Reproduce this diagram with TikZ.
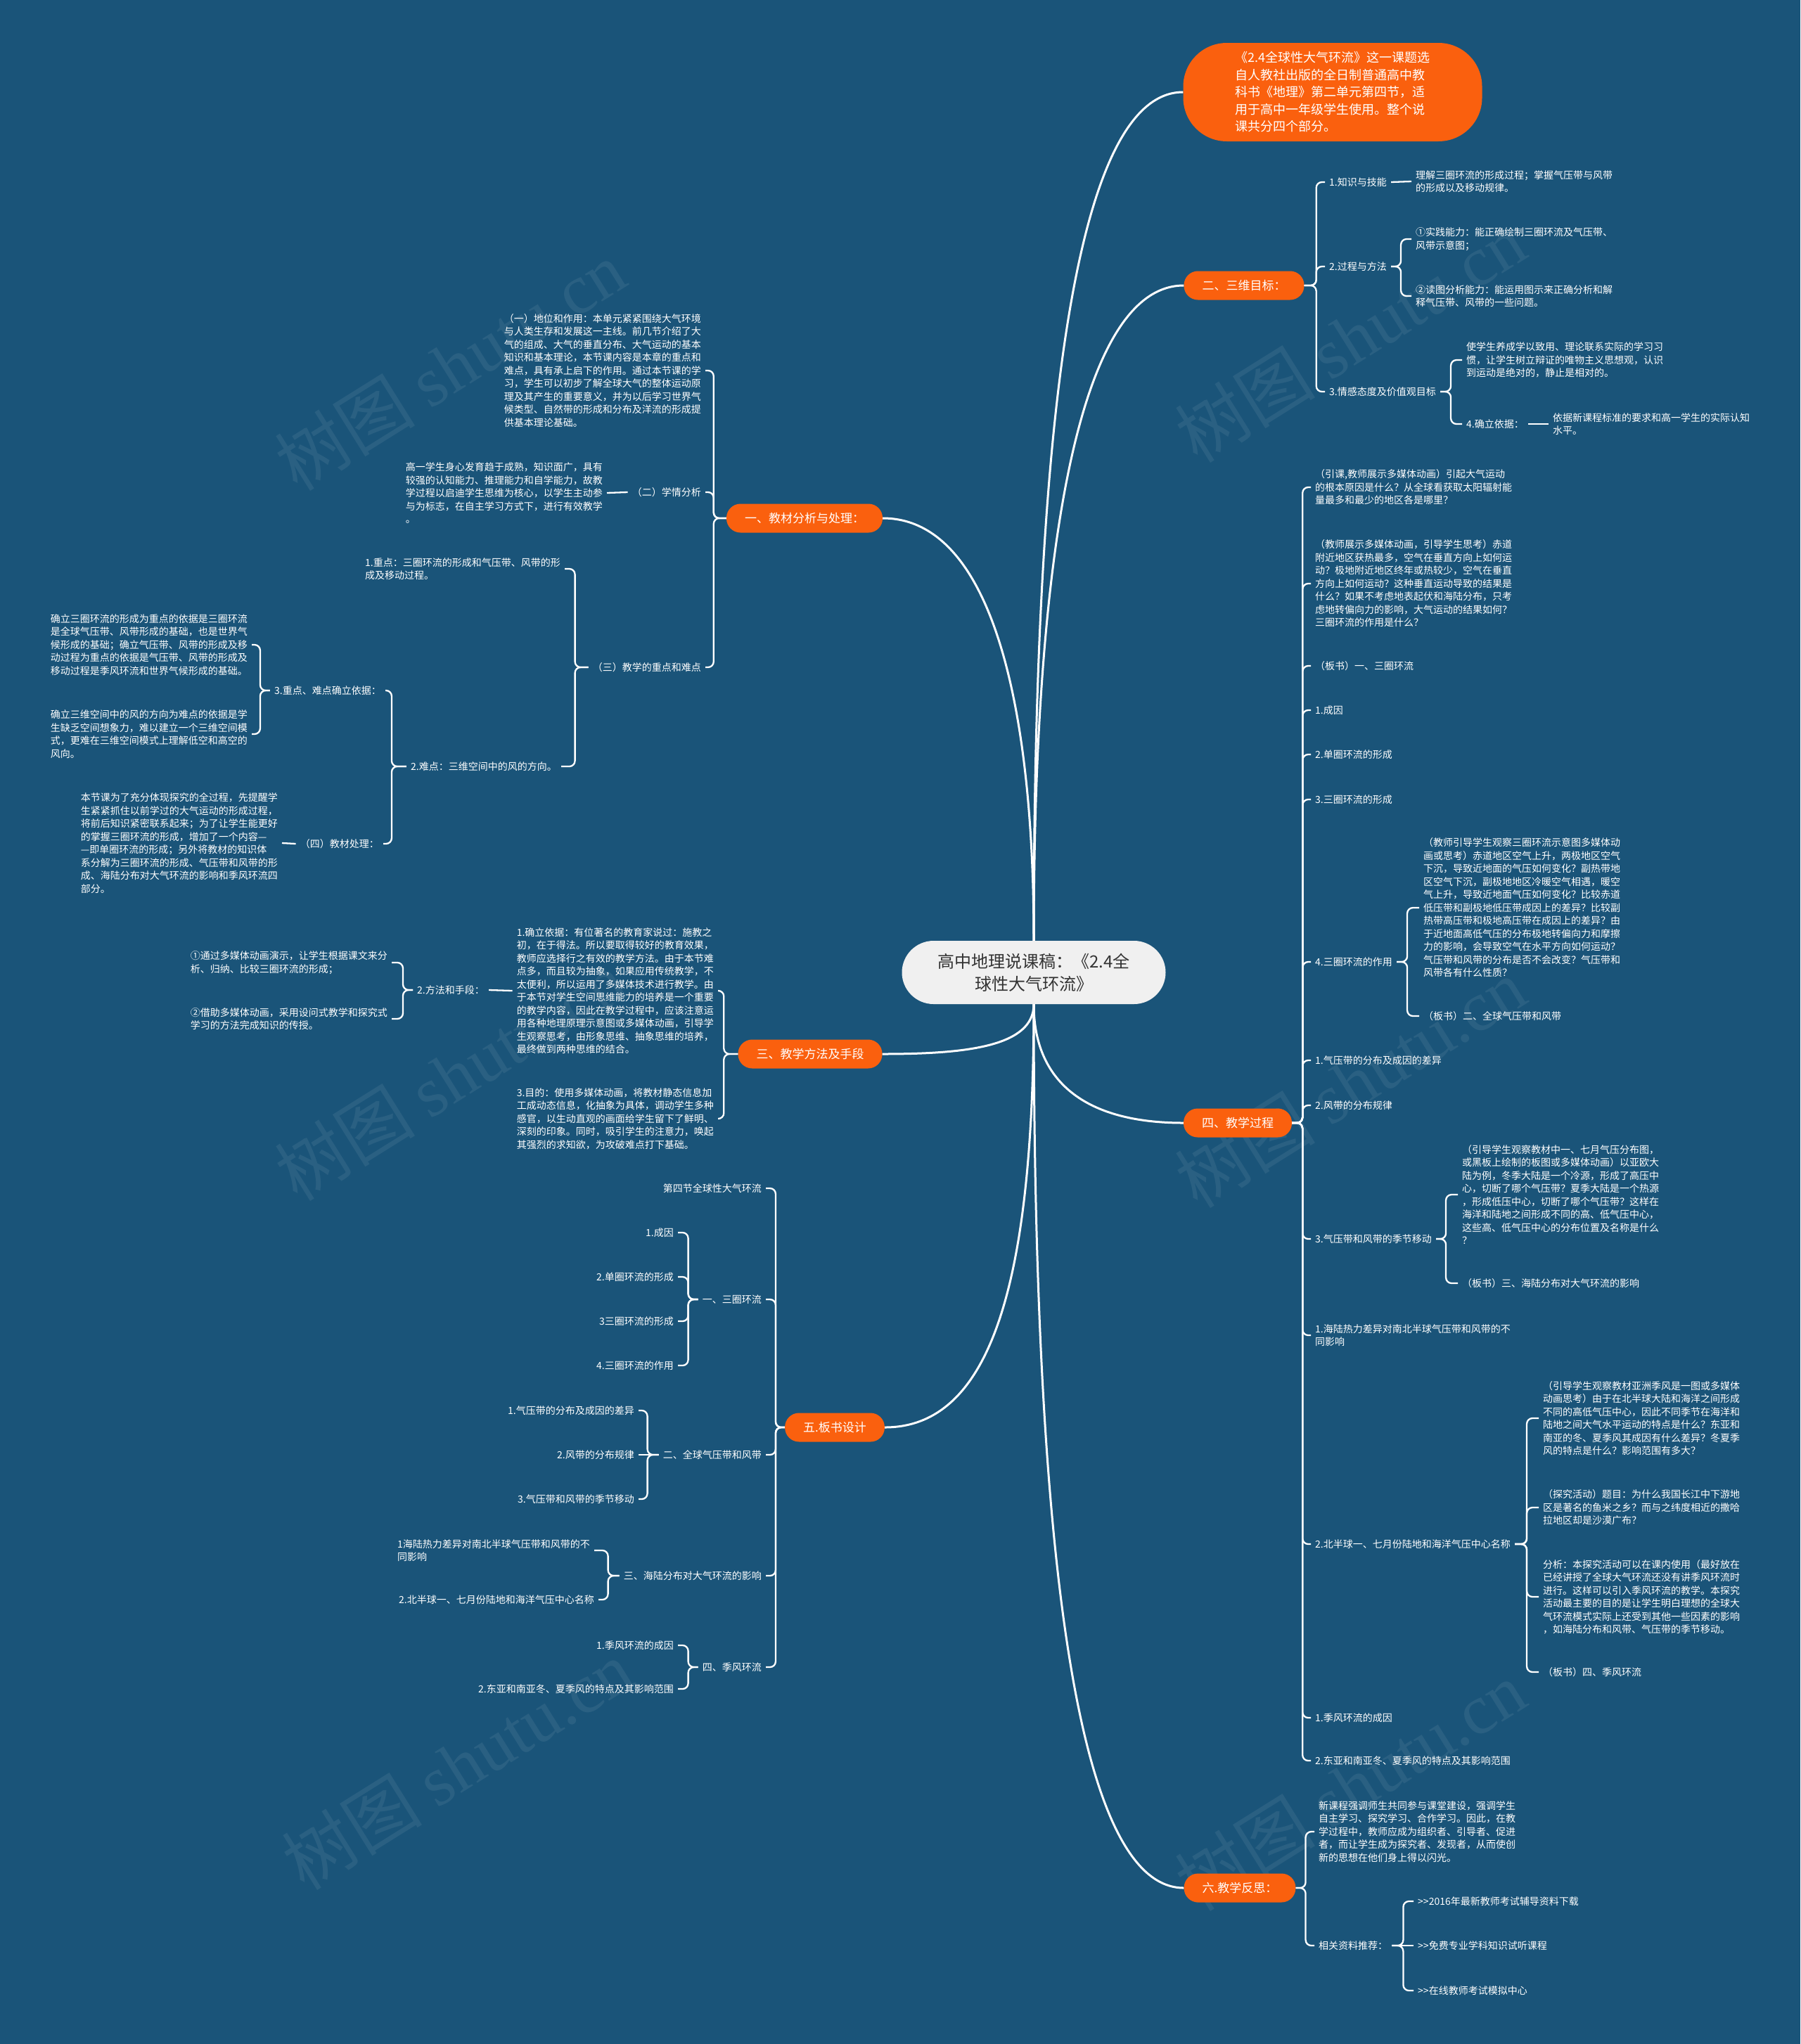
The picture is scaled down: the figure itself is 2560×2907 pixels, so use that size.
\documentclass[tikz,border=0pt]{standalone}
\usepackage{fontspec}
\setmainfont{Noto Sans CJK SC}
\newfontfamily\wmfont{Liberation Serif}
\definecolor{bgblue}{RGB}{26,84,121}
\definecolor{orangeM}{RGB}{250,96,14}
\definecolor{ctrfill}{RGB}{240,240,240}
\definecolor{ctrtext}{RGB}{51,51,51}
\tikzset{
  trunk/.style={draw=white, line width=3pt},
  link/.style={draw=white, line width=2.3pt, rounded corners=8pt},
  fork/.style={to path={-- ++(#1,0) |- (\tikztotarget) \tikztonodes}},
  ctr/.style={fill=ctrfill, text=ctrtext, rounded corners=45pt, minimum width=375pt,
    minimum height=90pt, align=center, font=\fontsize{24}{32}\selectfont},
  topic/.style={fill=orangeM, text=white, rounded corners=20pt, minimum height=41pt,
    inner xsep=26pt, font=\fontsize{17}{20}\selectfont},
  txt/.style={text=white, align=left, inner xsep=6pt, inner ysep=2pt,
    font=\fontsize{14}{18.5}\selectfont},
  wmark/.style={text=white, opacity=0.07, rotate=32, font=\fontsize{100}{100}\selectfont}
}
\begin{document}
\begin{tikzpicture}[x=1pt,y=-1pt]
\fill[bgblue] (0,0) rectangle (2560,2907);
\useasboundingbox (0,0) rectangle (2560,2907);

% watermarks
\foreach \wx/\wy [count=\i] in {640/520, 640/1530, 650/2510, 1920/480, 1920/1540, 1920/2540}
  \node[wmark] (wm\i) at (\wx,\wy) {树图\ {\wmfont shutu.cn}};

% centre and main topics
\node[ctr] (root) at (1470,1383) {高中地理说课稿：《2.4全\\球性大气环流》};
\node[topic, rounded corners=62pt, minimum width=425pt, minimum height=140pt, align=left,
  font=\fontsize{18}{24.5}\selectfont] (intro) at (1895,131)
  {《2.4全球性大气环流》这一课题选\\自人教社出版的全日制普通高中教\\科书《地理》第二单元第四节，适\\用于高中一年级学生使用。整个说\\课共分四个部分。};
\node[topic] (b1) at (1144,737) {一、教材分析与处理：};
\node[topic] (b2) at (1769,406) {二、三维目标：};
\node[topic] (b3) at (1152,1499) {三、教学方法及手段};
\node[topic] (b4) at (1760,1597) {四、教学过程};
\node[topic] (b5) at (1187,2030) {五.板书设计};
\node[topic] (b6) at (1763,2685) {六.教学反思：};

\draw[trunk] (root.north) .. controls +(0,-700) and +(-160,0) .. (intro.west);
\draw[trunk] (root.north) .. controls +(0,-550) and +(-150,0) .. (b2.west);
\draw[trunk] (root.north) .. controls +(0,-350) and +(150,0) .. (b1.east);
\draw[trunk] (root.south) .. controls +(0,60) and +(120,0) .. (b3.east);
\draw[trunk] (root.south) .. controls +(0,110) and +(-140,0) .. (b4.west);
\draw[trunk] (root.south) .. controls +(0,400) and +(150,0) .. (b5.east);
\draw[trunk] (root.south) .. controls +(0,800) and +(-150,0) .. (b6.west);

% 二、三维目标
\node[txt, anchor=west] (k1) at (1884,259) {1.知识与技能};
\node[txt, anchor=west] (k1a) at (2007,258) {理解三圈环流的形成过程；掌握气压带与风带\\的形成以及移动规律。};
\node[txt, anchor=west] (k2) at (1884,379) {2.过程与方法};
\node[txt, anchor=west] (k2a) at (2007,340) {①实践能力：能正确绘制三圈环流及气压带、\\风带示意图；};
\node[txt, anchor=west] (k2b) at (2007,421) {②读图分析能力：能运用图示来正确分析和解\\释气压带、风带的一些问题。};
\node[txt, anchor=west] (k3) at (1884,557) {3.情感态度及价值观目标};
\node[txt, anchor=west] (k3a) at (2079,512) {使学生养成学以致用、理论联系实际的学习习\\惯，让学生树立辩证的唯物主义思想观，认识\\到运动是绝对的，静止是相对的。};
\node[txt, anchor=west] (k3b) at (2079,603) {4.确立依据：};
\node[txt, anchor=west] (k3c) at (2202,603) {依据新课程标准的要求和高一学生的实际认知\\水平。};
\draw[link] (b2.east) edge[fork=17] (k1.west) edge[fork=17] (k2.west) edge[fork=17] (k3.west);
\draw[link] (k1.east) -- (k1a.west);
\draw[link] (k2.east) edge[fork=14] (k2a.west) edge[fork=14] (k2b.west);
\draw[link] (k3.east) edge[fork=15] (k3a.west) edge[fork=15] (k3b.west);
\draw[link] (k3b.east) -- (k3c.west);

% 一、教材分析与处理
\node[txt, anchor=east] (m1) at (1003,527) {（一）地位和作用：本单元紧紧围绕大气环境\\与人类生存和发展这一主线。前几节介绍了大\\气的组成、大气的垂直分布、大气运动的基本\\知识和基本理论，本节课内容是本章的重点和\\难点，具有承上启下的作用。通过本节课的学\\习，学生可以初步了解全球大气的整体运动原\\理及其产生的重要意义，并为以后学习世界气\\候类型、自然带的形成和分布及洋流的形成提\\供基本理论基础。};
\node[txt, anchor=east] (m2) at (1003,700) {（二）学情分析};
\node[txt, anchor=east] (m2a) at (863,701) {高一学生身心发育趋于成熟，知识面广，具有\\较强的认知能力、推理能力和自学能力，故教\\学过程以启迪学生思维为核心，以学生主动参\\与为标志，在自主学习方式下，进行有效教学\\。};
\node[txt, anchor=east] (m3) at (1003,949) {（三）教学的重点和难点};
\node[txt, anchor=east] (m31) at (803,809) {1.重点：三圈环流的形成和气压带、风带的形\\成及移动过程。};
\node[txt, anchor=east] (m32) at (798,1090) {2.难点：三维空间中的风的方向。};
\node[txt, anchor=east] (m321) at (548,982) {3.重点、难点确立依据：};
\node[txt, anchor=east] (m321a) at (358,917) {确立三圈环流的形成为重点的依据是三圈环流\\是全球气压带、风带形成的基础，也是世界气\\候形成的基础；确立气压带、风带的形成及移\\动过程为重点的依据是气压带、风带的形成及\\移动过程是季风环流和世界气候形成的基础。};
\node[txt, anchor=east] (m321b) at (358,1044) {确立三维空间中的风的方向为难点的依据是学\\生缺乏空间想象力，难以建立一个三维空间模\\式，更难在三维空间模式上理解低空和高空的\\风向。};
\node[txt, anchor=east] (m322) at (545,1200) {（四）教材处理：};
\node[txt, anchor=east] (m322a) at (401,1199) {本节课为了充分体现探究的全过程，先提醒学\\生紧紧抓住以前学过的大气运动的形成过程，\\将前后知识紧密联系起来；为了让学生能更好\\的掌握三圈环流的形成，增加了一个内容—\\—即单圈环流的形成；另外将教材的知识体\\系分解为三圈环流的形成、气压带和风带的形\\成、海陆分布对大气环流的影响和季风环流四\\部分。};
\draw[link] (b1.west) edge[fork=-18] (m1.east) edge[fork=-18] (m2.east) edge[fork=-18] (m3.east);
\draw[link] (m2.west) -- (m2a.east);
\draw[link] (m3.west) edge[fork=-19] (m31.east) edge[fork=-19] (m32.east);
\draw[link] (m32.west) edge[fork=-21] (m321.east) edge[fork=-21] (m322.east);
\draw[link] (m321.west) edge[fork=-14] (m321a.east) edge[fork=-14] (m321b.east);
\draw[link] (m322.west) -- (m322a.east);

% 三、教学方法及手段
\node[txt, anchor=east] (f1) at (1021,1409) {1.确立依据：有位著名的教育家说过：施教之\\初，在于得法。所以要取得较好的教育效果，\\教师应选择行之有效的教学方法。由于本节难\\点多，而且较为抽象，如果应用传统教学，不\\太便利，所以运用了多媒体技术进行教学。由\\于本节对学生空间思维能力的培养是一个重要\\的教学内容，因此在教学过程中，应该注意运\\用各种地理原理示意图或多媒体动画，引导学\\生观察思考，由形象思维、抽象思维的培养，\\最终做到两种思维的结合。};
\node[txt, anchor=west] (f1a) at (587,1408) {2.方法和手段：};
\node[txt, anchor=east] (f1a1) at (557,1369) {①通过多媒体动画演示，让学生根据课文来分\\析、归纳、比较三圈环流的形成；};
\node[txt, anchor=east] (f1a2) at (557,1449) {②借助多媒体动画，采用设问式教学和探究式\\学习的方法完成知识的传授。};
\node[txt, anchor=east] (f2) at (1021,1591) {3.目的：使用多媒体动画，将教材静态信息加\\工成动态信息，化抽象为具体，调动学生多种\\感官，以生动直观的画面给学生留下了鲜明、\\深刻的印象。同时，吸引学生的注意力，唤起\\其强烈的求知欲，为攻破难点打下基础。};
\draw[link] (b3.west) edge[fork=-20] (f1.east) edge[fork=-20] (f2.east);
\draw[link] (f1.west) -- (f1a.east);
\draw[link] (f1a.west) edge[fork=-14] (f1a1.east) edge[fork=-14] (f1a2.east);

% 四、教学过程
\node[txt, anchor=west] (p1) at (1864,693) {（引课,教师展示多媒体动画）引起大气运动\\的根本原因是什么？从全球看获取太阳辐射能\\量最多和最少的地区各是哪里？};
\node[txt, anchor=west] (p2) at (1864,830) {（教师展示多媒体动画，引导学生思考）赤道\\附近地区获热最多，空气在垂直方向上如何运\\动？极地附近地区终年或热较少，空气在垂直\\方向上如何运动？这种垂直运动导致的结果是\\什么？如果不考虑地表起伏和海陆分布，只考\\虑地转偏向力的影响，大气运动的结果如何？\\三圈环流的作用是什么？};
\node[txt, anchor=west] (p3) at (1864,947) {（板书）一、三圈环流};
\node[txt, anchor=west] (p4) at (1864,1010) {1.成因};
\node[txt, anchor=west] (p5) at (1864,1073) {2.单圈环流的形成};
\node[txt, anchor=west] (p6) at (1864,1137) {3.三圈环流的形成};
\node[txt, anchor=west] (p7) at (1864,1368) {4.三圈环流的作用};
\node[txt, anchor=west] (p7a) at (2018,1291) {（教师引导学生观察三圈环流示意图多媒体动\\画或思考）赤道地区空气上升，两极地区空气\\下沉，导致近地面的气压如何变化？副热带地\\区空气下沉，副极地地区冷暖空气相遇，暖空\\气上升，导致近地面气压如何变化？比较赤道\\低压带和副极地低压带成因上的差异？比较副\\热带高压带和极地高压带在成因上的差异？由\\于近地面高低气压的分布极地转偏向力和摩擦\\力的影响，会导致空气在水平方向如何运动？\\气压带和风带的分布是否不会改变？气压带和\\风带各有什么性质？};
\node[txt, anchor=west] (p7b) at (2018,1445) {（板书）二、全球气压带和风带};
\node[txt, anchor=west] (p8) at (1864,1508) {1.气压带的分布及成因的差异};
\node[txt, anchor=west] (p9) at (1864,1572) {2.风带的分布规律};
\node[txt, anchor=west] (p10) at (1864,1762) {3.气压带和风带的季节移动};
\node[txt, anchor=west] (p10a) at (2073,1699) {（引导学生观察教材中一、七月气压分布图，\\或黑板上绘制的板图或多媒体动画）以亚欧大\\陆为例，冬季大陆是一个冷源，形成了高压中\\心，切断了哪个气压带？夏季大陆是一个热源\\，形成低压中心，切断了哪个气压带？这样在\\海洋和陆地之间形成不同的高、低气压中心，\\这些高、低气压中心的分布位置及名称是什么\\？};
\node[txt, anchor=west] (p10b) at (2073,1825) {（板书）三、海陆分布对大气环流的影响};
\node[txt, anchor=west] (p11) at (1864,1899) {1.海陆热力差异对南北半球气压带和风带的不\\同影响};
\node[txt, anchor=west] (p12) at (1864,2196) {2.北半球一、七月份陆地和海洋气压中心名称};
\node[txt, anchor=west] (p12a) at (2188,2017) {（引导学生观察教材亚洲季风是一图或多媒体\\动画思考）由于在北半球大陆和海洋之间形成\\不同的高低气压中心，因此不同季节在海洋和\\陆地之间大气水平运动的特点是什么？东亚和\\南亚的冬、夏季风其成因有什么差异？冬夏季\\风的特点是什么？影响范围有多大？};
\node[txt, anchor=west] (p12b) at (2188,2144) {（探究活动）题目：为什么我国长江中下游地\\区是著名的鱼米之乡？而与之纬度相近的撒哈\\拉地区却是沙漠广布？};
\node[txt, anchor=west] (p12c) at (2188,2271) {分析：本探究活动可以在课内使用（最好放在\\已经讲授了全球大气环流还没有讲季风环流时\\进行。这样可以引入季风环流的教学。本探究\\活动最主要的目的是让学生明白理想的全球大\\气环流模式实际上还受到其他一些因素的影响\\，如海陆分布和风带、气压带的季节移动。};
\node[txt, anchor=west] (p12d) at (2188,2378) {（板书）四、季风环流};
\node[txt, anchor=west] (p13) at (1864,2443) {1.季风环流的成因};
\node[txt, anchor=west] (p14) at (1864,2504) {2.东亚和南亚冬、夏季风的特点及其影响范围};
\foreach \n in {p1,p2,p3,p4,p5,p6,p7,p8,p9,p10,p11,p12,p13,p14}
  \draw[link] (b4.east) to[fork=15] (\n.west);
\draw[link] (p7.east) edge[fork=15] (p7a.west) edge[fork=15] (p7b.west);
\draw[link] (p10.east) edge[fork=14] (p10a.west) edge[fork=14] (p10b.west);
\draw[link] (p12.east) edge[fork=17] (p12a.west) edge[fork=17] (p12b.west)
  edge[fork=17] (p12c.west) edge[fork=17] (p12d.west);

% 五.板书设计
\node[txt, anchor=east] (s1) at (1089,1690) {第四节全球性大气环流};
\node[txt, anchor=east] (s2) at (1089,1848) {一、三圈环流};
\node[txt, anchor=east] (s21) at (964,1753) {1.成因};
\node[txt, anchor=east] (s22) at (964,1816) {2.单圈环流的形成};
\node[txt, anchor=east] (s23) at (964,1879) {3三圈环流的形成};
\node[txt, anchor=east] (s24) at (964,1942) {4.三圈环流的作用};
\node[txt, anchor=east] (s3) at (1089,2069) {二、全球气压带和风带};
\node[txt, anchor=east] (s31) at (908,2006) {1.气压带的分布及成因的差异};
\node[txt, anchor=east] (s32) at (908,2069) {2.风带的分布规律};
\node[txt, anchor=east] (s33) at (908,2132) {3.气压带和风带的季节移动};
\node[txt, anchor=east] (s4) at (1089,2241) {三、海陆分布对大气环流的影响};
\node[txt, anchor=east] (s41) at (845,2205) {1海陆热力差异对南北半球气压带和风带的不\\同影响};
\node[txt, anchor=east] (s42) at (851,2275) {2.北半球一、七月份陆地和海洋气压中心名称};
\node[txt, anchor=east] (s5) at (1089,2371) {四、季风环流};
\node[txt, anchor=east] (s51) at (964,2340) {1.季风环流的成因};
\node[txt, anchor=east] (s52) at (964,2402) {2.东亚和南亚冬、夏季风的特点及其影响范围};
\draw[link] (b5.west) edge[fork=-13] (s1.east) edge[fork=-13] (s2.east) edge[fork=-13] (s3.east)
  edge[fork=-13] (s4.east) edge[fork=-13] (s5.east);
\draw[link] (s2.west) edge[fork=-14] (s21.east) edge[fork=-14] (s22.east)
  edge[fork=-14] (s23.east) edge[fork=-14] (s24.east);
\draw[link] (s3.west) edge[fork=-16] (s31.east) edge (s32.east) edge[fork=-16] (s33.east);
\draw[link] (s4.west) edge[fork=-16] (s41.east) edge[fork=-16] (s42.east);
\draw[link] (s5.west) edge[fork=-14] (s51.east) edge[fork=-14] (s52.east);

% 六.教学反思
\node[txt, anchor=west] (r1) at (1869,2605) {新课程强调师生共同参与课堂建设，强调学生\\自主学习、探究学习、合作学习。因此，在教\\学过程中，教师应成为组织者、引导者、促进\\者，而让学生成为探究者、发现者，从而使创\\新的思想在他们身上得以闪光。};
\node[txt, anchor=west] (r2) at (1869,2767) {相关资料推荐：};
\node[txt, anchor=west] (r21) at (2010,2704) {>{}>2016年最新教师考试辅导资料下载};
\node[txt, anchor=west] (r22) at (2010,2767) {>{}>免费专业学科知识试听课程};
\node[txt, anchor=west] (r23) at (2010,2831) {>{}>在线教师考试模拟中心};
\draw[link] (b6.east) edge[fork=14] (r1.west) edge[fork=14] (r2.west);
\draw[link] (r2.east) edge[fork=16] (r21.west) edge (r22.west) edge[fork=16] (r23.west);
\end{tikzpicture}
\end{document}
